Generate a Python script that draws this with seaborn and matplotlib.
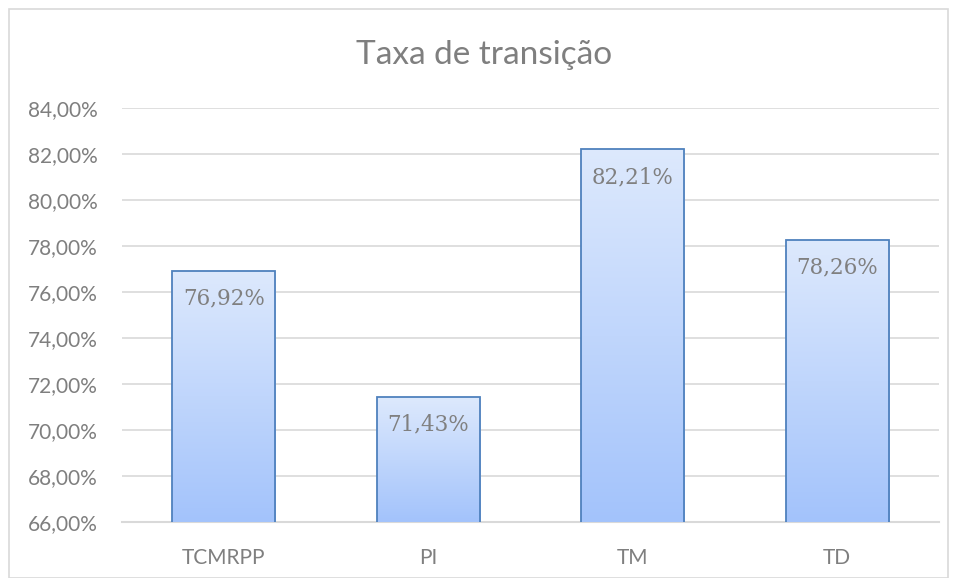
import numpy as np
import pandas as pd
import matplotlib
matplotlib.use("Agg")
import matplotlib.pyplot as plt
import seaborn as sns
from matplotlib.colors import LinearSegmentedColormap
from matplotlib.ticker import FuncFormatter, MultipleLocator
from matplotlib.patches import Rectangle

categories = ["TCMRPP", "PI", "TM", "TD"]
values = [76.92, 71.43, 82.21, 78.26]
title = "Taxa de transição"

sns.set_theme(style="white")
plt.rcParams['font.family'] = ['Lato', 'DejaVu Sans']

df = pd.DataFrame({"cat": categories, "val": values})

fig = plt.figure(figsize=(9.57, 5.78), dpi=100)
ax = fig.add_axes([121.5/957, 1-522/578, (939.5-121.5)/957, (522-108)/578])

sns.barplot(data=df, x="cat", y="val", ax=ax, width=0.505, color="#a4c2f4",
            edgecolor="#4f81bd", linewidth=1.3, zorder=3)

ax.set_ylim(66, 84)
ax.yaxis.set_major_locator(MultipleLocator(2))
ax.yaxis.set_major_formatter(FuncFormatter(lambda v, p: f"{v:.2f}%".replace(".", ",")))
ax.grid(axis="y", color="#d9d9d9", linewidth=1.2, zorder=0)
ax.set_axisbelow(True)
for s in ["top", "right", "left"]:
    ax.spines[s].set_visible(False)
ax.spines["bottom"].set_color("#d9d9d9")
ax.spines["bottom"].set_linewidth(1.5)
ax.spines["bottom"].set_zorder(1)
ax.set_xlabel("")
ax.set_ylabel("")
ax.tick_params(axis="y", length=0, pad=17, labelsize=15, labelcolor="#7f7f7f")
ax.tick_params(axis="x", length=0, pad=19, labelsize=15, labelcolor="#7f7f7f")

cmap = LinearSegmentedColormap.from_list("g", ["#a3c3fb", "#dde9fd"])
grad = np.linspace(0, 1, 256).reshape(-1, 1)
for patch, v in zip(ax.patches, values):
    x0 = patch.get_x(); w = patch.get_width()
    y0 = patch.get_y(); h = patch.get_height()
    im = ax.imshow(grad, cmap=cmap, origin="lower", aspect="auto",
                   extent=[x0, x0 + w, 66, y0 + h], zorder=3.5)
    im.set_clip_path(patch)
    patch.set_facecolor("none")
    patch.set_zorder(4)
    ax.annotate(f"{v:.2f}%".replace(".", ","), (x0 + w/2, y0 + h),
                xytext=(0, -20), textcoords="offset points",
                ha="center", va="center", fontsize=15.5,
                family=["DejaVu Serif"], color="#808080", zorder=5)
ax.set_xlim(-0.5, 3.5)

fig.text(484/957, 1-55/578, title, ha="center", va="center", fontsize=24,
         color="#7f7f7f")

fig.patches.append(Rectangle((9/957, 0), (948-9)/957, 1-9/578, transform=fig.transFigure,
                             fill=False, edgecolor="#d9d9d9", linewidth=1.2))

fig.savefig("out.png", dpi=100)
